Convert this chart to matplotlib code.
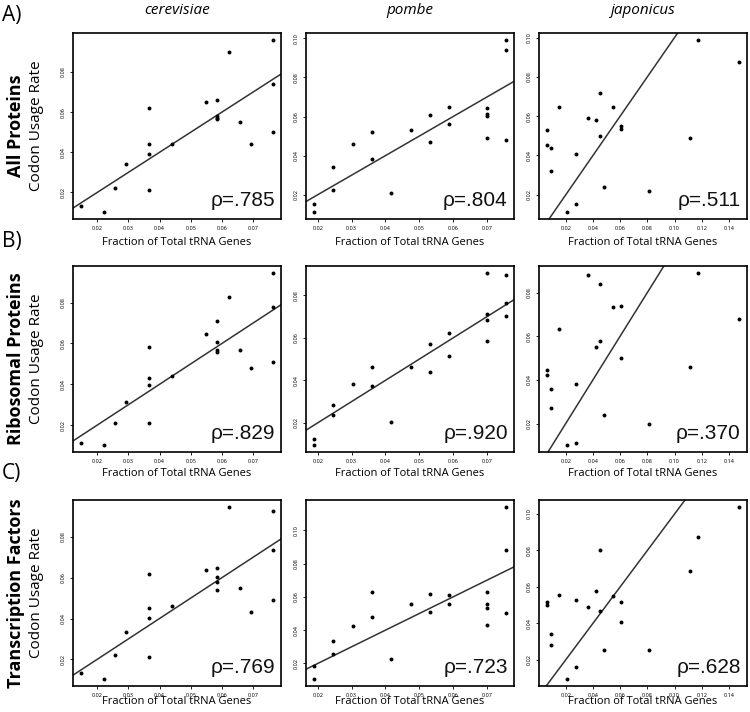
import numpy as np
import matplotlib
matplotlib.use('Agg')
import matplotlib.pyplot as plt
from matplotlib.ticker import MultipleLocator, FormatStrFormatter

plt.rcParams['font.family'] = ['Open Sans', 'DejaVu Sans']

# tRNA gene fractions (x), shared by the three rows of each species
cer_x = [0.0147, 0.0221, 0.0257, 0.0293, 0.0366, 0.0366, 0.0366, 0.0366, 0.0439, 0.0548,
         0.0584, 0.0584, 0.0584, 0.0584, 0.0622, 0.0657, 0.0693, 0.0765, 0.0765, 0.0765]
pom_x = [0.0188, 0.0188, 0.0246, 0.0246, 0.0303, 0.0359, 0.0359, 0.0416, 0.0474, 0.0531,
         0.0531, 0.0588, 0.0588, 0.0701, 0.0701, 0.0701, 0.0701, 0.0757, 0.0757, 0.0757]
jap_x = [0.0060, 0.0060, 0.0089, 0.0089, 0.0150, 0.0212, 0.0274, 0.0274, 0.0362, 0.0423,
         0.0453, 0.0453, 0.0482, 0.0544, 0.0603, 0.0603, 0.0814, 0.1114, 0.1176, 0.1476]

# codon usage rates, all proteins
cer_all = [0.0132, 0.0102, 0.0221, 0.0341, 0.0211, 0.0391, 0.0441, 0.0622, 0.0441, 0.0650,
           0.0660, 0.0580, 0.0572, 0.0565, 0.0900, 0.0550, 0.0440, 0.0960, 0.0740, 0.0500]
pom_all = [0.0151, 0.0111, 0.0342, 0.0223, 0.0460, 0.0520, 0.0382, 0.0210, 0.0532, 0.0610,
           0.0472, 0.0651, 0.0561, 0.0645, 0.0612, 0.0602, 0.0492, 0.0992, 0.0942, 0.0481]
jap_all = [0.0530, 0.0452, 0.0440, 0.0319, 0.0649, 0.0112, 0.0409, 0.0151, 0.0589, 0.0579,
           0.0718, 0.0499, 0.0241, 0.0649, 0.0550, 0.0533, 0.0220, 0.0490, 0.0988, 0.0876]

# ribosomal proteins
cer_rib = [0.0113, 0.0102, 0.0211, 0.0312, 0.0211, 0.0398, 0.0430, 0.0585, 0.0441, 0.0647,
           0.0708, 0.0606, 0.0566, 0.0558, 0.0828, 0.0570, 0.0480, 0.0946, 0.0777, 0.0508]
pom_rib = [0.0123, 0.0095, 0.0284, 0.0235, 0.0383, 0.0465, 0.0373, 0.0203, 0.0465, 0.0570,
           0.0441, 0.0624, 0.0514, 0.0906, 0.0714, 0.0684, 0.0584, 0.0894, 0.0764, 0.0704]
jap_rib = [0.0443, 0.0420, 0.0360, 0.0271, 0.0631, 0.0101, 0.0380, 0.0112, 0.0880, 0.0551,
           0.0840, 0.0580, 0.0241, 0.0734, 0.0739, 0.0501, 0.0200, 0.0461, 0.0890, 0.0680]

# transcription factors
cer_tf = [0.0135, 0.0103, 0.0221, 0.0332, 0.0213, 0.0401, 0.0452, 0.0620, 0.0462, 0.0640,
          0.0648, 0.0603, 0.0578, 0.0539, 0.0947, 0.0551, 0.0430, 0.0927, 0.0738, 0.0491]
pom_tf = [0.0186, 0.0106, 0.0334, 0.0256, 0.0422, 0.0628, 0.0480, 0.0226, 0.0558, 0.0618,
          0.0510, 0.0608, 0.0558, 0.0628, 0.0558, 0.0530, 0.0432, 0.1140, 0.0884, 0.0500]
jap_tf = [0.0519, 0.0498, 0.0341, 0.0282, 0.0557, 0.0094, 0.0528, 0.0163, 0.0487, 0.0577,
          0.0802, 0.0467, 0.0251, 0.0548, 0.0517, 0.0409, 0.0251, 0.0685, 0.0872, 0.1039]

species = ['cerevisiae', 'pombe', 'japonicus']
row_names = ['All Proteins', 'Ribosomal Proteins', 'Transcription Factors']
row_letters = ['A)', 'B)', 'C)']
xs = [cer_x, pom_x, jap_x]
ys = [[cer_all, pom_all, jap_all],
      [cer_rib, pom_rib, jap_rib],
      [cer_tf, pom_tf, jap_tf]]
rhos = [['ρ=.785', 'ρ=.804', 'ρ=.511'],
        ['ρ=.829', 'ρ=.920', 'ρ=.370'],
        ['ρ=.769', 'ρ=.723', 'ρ=.628']]


def r_lims(v):
    # R style axis range: data range padded by 4% each side
    lo, hi = min(v), max(v)
    pad = 0.04 * (hi - lo)
    return lo - pad, hi + pad


W, H = 750, 712
fig = plt.figure(figsize=(W / 100, H / 100), dpi=100)

col_left = [73, 306, 539]
row_top = [33, 266, 500]
ax_w, ax_h = 208, 186
xlab_y = [243, 474, 702]
letter_y = [16, 242, 474]

for r in range(3):
    for c in range(3):
        ax = fig.add_axes([col_left[c] / W, 1 - (row_top[r] + ax_h) / H, ax_w / W, ax_h / H])
        ax.scatter(xs[c], ys[r][c], s=8, c='black', linewidths=0, zorder=3)
        ax.axline((0, 0), slope=1, color='#333333', lw=1.1)
        ax.set_xlim(*r_lims(xs[c]))
        ax.set_ylim(*r_lims(ys[r][c]))
        for sp in ax.spines.values():
            sp.set_linewidth(1.2)
        ax.xaxis.set_major_locator(MultipleLocator(0.02 if c == 2 else 0.01))
        ax.yaxis.set_major_locator(MultipleLocator(0.02))
        ax.xaxis.set_major_formatter(FormatStrFormatter('%.2f'))
        ax.yaxis.set_major_formatter(FormatStrFormatter('%.2f'))
        ax.tick_params(labelsize=4, length=2.5, width=0.6, pad=2.5)
        for lab in ax.get_yticklabels():
            lab.set_rotation(90)
            lab.set_va('center')
        ax.text(0.97, 0.05, rhos[r][c], transform=ax.transAxes, ha='right', va='bottom',
                fontsize=15, color='#111111', family=['Liberation Sans', 'DejaVu Sans'])
        cx = (col_left[c] + ax_w / 2) / W
        fig.text(cx, 1 - xlab_y[r] / H, 'Fraction of Total tRNA Genes', ha='center', va='center',
                 fontsize=8)
        if r == 0:
            fig.text(cx, 1 - 10 / H, species[c], ha='center', va='center',
                     fontsize=11, style='italic')
    cy = 1 - (row_top[r] + ax_h / 2) / H
    fig.text(16 / W, cy, row_names[r], rotation=90, ha='center', va='center',
             fontsize=13, fontweight='bold')
    fig.text(37 / W, cy, 'Codon Usage Rate', rotation=90, ha='center', va='center', fontsize=11)
    fig.text(2 / W, 1 - letter_y[r] / H, row_letters[r], ha='left', va='center', fontsize=15)

fig.savefig('out.png', dpi=100)
